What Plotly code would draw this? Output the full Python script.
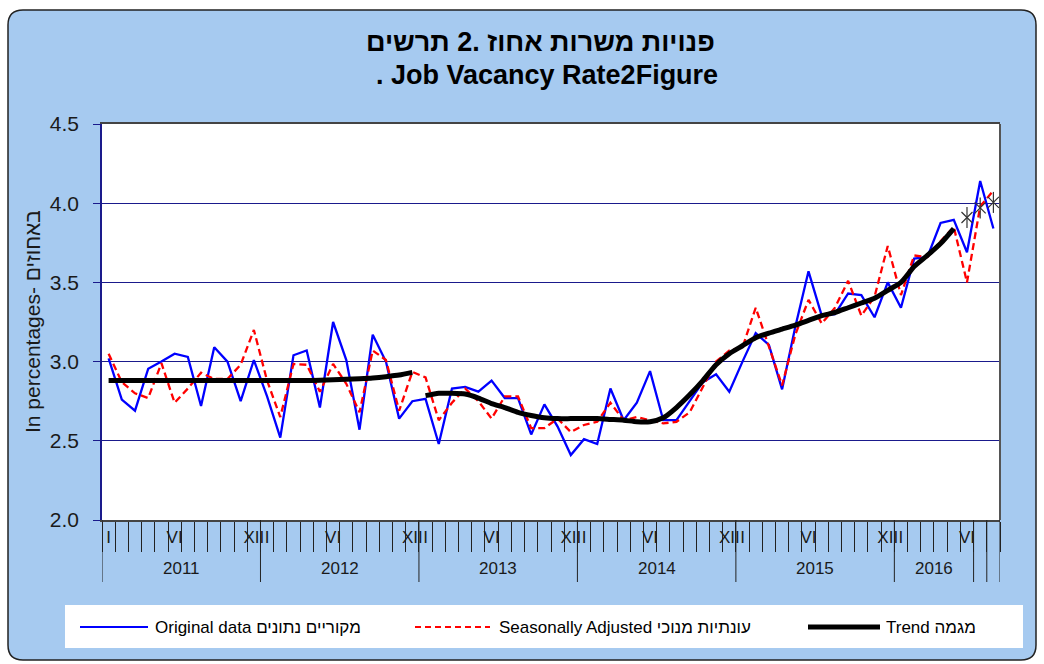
import plotly.graph_objects as go

# ---------------- data ----------------
years = ["2011", "2012", "2013", "2014", "2015", "2016"]
year_group_start = [0, 12, 24, 36, 48, 60]
year_group_end = [12, 24, 36, 48, 60, 66]
month_marks = {0: "I", 5: "VI", 11: "XII"}

original = [3.02, 2.76, 2.69, 2.955, 3.00, 3.05, 3.03, 2.72, 3.09, 3.00, 2.75, 3.01,
            2.78, 2.52, 3.04, 3.07, 2.71, 3.25, 3.01, 2.57, 3.17, 3.00, 2.64, 2.75,
            2.765, 2.48, 2.83, 2.84, 2.81, 2.88, 2.77, 2.77, 2.54, 2.73, 2.59, 2.41,
            2.51, 2.48, 2.83, 2.63, 2.74, 2.94, 2.63, 2.63, 2.75, 2.87, 2.92, 2.81,
            3.00, 3.18, 3.105, 2.825, 3.22, 3.57, 3.29, 3.30, 3.43, 3.42, 3.28, 3.50,
            3.34, 3.65, 3.66, 3.875, 3.895, 3.69, 4.14, 3.84]

seasonal = [3.05, 2.87, 2.80, 2.77, 2.99, 2.74, 2.83, 2.93, 2.89, 2.89, 2.98, 3.20,
            2.88, 2.65, 2.985, 2.98, 2.81, 2.985, 2.86, 2.68, 3.07, 3.01, 2.69, 2.935,
            2.90, 2.63, 2.74, 2.83, 2.75, 2.64, 2.78, 2.78, 2.58, 2.58, 2.64, 2.555,
            2.60, 2.62, 2.74, 2.63, 2.65, 2.63, 2.61, 2.62, 2.68, 2.84, 3.00, 3.07,
            3.09, 3.34, 3.09, 2.85, 3.17, 3.39, 3.24, 3.34, 3.51, 3.29, 3.41, 3.73,
            3.42, 3.67, 3.66, 3.76, 3.85, 3.50, 3.98, 4.08]

trend_a = [2.88, 2.88, 2.88, 2.88, 2.88, 2.88, 2.88, 2.88, 2.88, 2.88, 2.88, 2.88,
           2.88, 2.88, 2.88, 2.88, 2.882, 2.885, 2.888, 2.892, 2.897, 2.905, 2.915, 2.932]
trend_a_start = 0

trend_b = [2.785, 2.80, 2.80, 2.795, 2.77, 2.735, 2.71, 2.68, 2.66, 2.645, 2.64, 2.64,
           2.64, 2.64, 2.635, 2.63, 2.62, 2.62, 2.645, 2.71, 2.79, 2.88, 2.98, 3.05,
           3.10, 3.15, 3.18, 3.205, 3.23, 3.26, 3.29, 3.31, 3.34, 3.37, 3.40, 3.45,
           3.50, 3.60, 3.67, 3.745, 3.84]
trend_b_start = 24

trend_forecast = [3.91, 3.97, 4.005]
trend_forecast_start = 65

y_ticks = [2.0, 2.5, 3.0, 3.5, 4.0, 4.5]

# Hebrew written so that the rendered (visual) word order matches the reference
title_he = "פנויות משרות אחוז .2 תרשים"
title_en = ". Job Vacancy Rate2Figure"
y_title = "In percentages- באחוזים"
legend_labels = ["Original data מקוריים נתונים",
                 "Seasonally Adjusted עונתיות מנוכי",
                 "Trend מגמה"]

# ---------------- layout helpers ----------------
W, H = 1044, 664
PL, PR, PT, PB = 102, 1000, 124, 520


def px(xp):
    return (xp - PL) / (PR - PL)


def py(yp):
    return (PB - yp) / (PB - PT)


n = len(original)
xs = [i + 0.5 for i in range(n)]

BLUE = "#0000FF"
RED = "#FF0000"
BG = "#A6CAF0"
NAVY = "#1A1A8C"
TXT = "#1a1a1a"
FONT = "Liberation Sans, Arial, sans-serif"
NARROW = "Liberation Sans Narrow, Arial Narrow, Liberation Sans, sans-serif"

fig = go.Figure()
fig.add_trace(go.Scatter(x=xs, y=original, mode="lines",
                         line=dict(color=BLUE, width=2.3), name=legend_labels[0]))
fig.add_trace(go.Scatter(x=xs, y=seasonal, mode="lines",
                         line=dict(color=RED, width=2.3, dash="7px,4px"), name=legend_labels[1]))
fig.add_trace(go.Scatter(x=[trend_a_start + i + 0.5 for i in range(len(trend_a))], y=trend_a,
                         mode="lines", line=dict(color="black", width=5, shape="spline", smoothing=0.6),
                         name=legend_labels[2]))
fig.add_trace(go.Scatter(x=[trend_b_start + i + 0.5 for i in range(len(trend_b))], y=trend_b,
                         mode="lines", line=dict(color="black", width=5, shape="spline", smoothing=0.6),
                         showlegend=False))
fx = [trend_forecast_start + i + 0.5 for i in range(len(trend_forecast))]
fig.add_trace(go.Scatter(x=fx, y=trend_forecast, mode="markers",
                         marker=dict(symbol="x-thin-open", size=11, color="#333",
                                     line=dict(color="#333", width=1.2)), showlegend=False))
fig.add_trace(go.Scatter(x=fx, y=trend_forecast, mode="markers",
                         marker=dict(symbol="line-ns-open", size=15, color="#333",
                                     line=dict(color="#333", width=1.2)), showlegend=False))

# month labels
tickvals, ticktext = [], []
for yi in range(len(years)):
    for m, lab in month_marks.items():
        idx = yi * 12 + m
        if idx < n:
            tickvals.append(idx + 0.5)
            ticktext.append(lab)

shapes = []
# rounded background panel
x0, x1 = px(8), px(1036)
y0, y1 = py(660), py(10)
rx, ry = 15 / (PR - PL), 15 / (PB - PT)
path = (f"M {x0+rx},{y1} L {x1-rx},{y1} Q {x1},{y1} {x1},{y1-ry} L {x1},{y0+ry} "
        f"Q {x1},{y0} {x1-rx},{y0} L {x0+rx},{y0} Q {x0},{y0} {x0},{y0+ry} "
        f"L {x0},{y1-ry} Q {x0},{y1} {x0+rx},{y1} Z")
shapes.append(dict(type="path", path=path, xref="paper", yref="paper", layer="below",
                   fillcolor=BG, line=dict(color="#222", width=1.5)))
# plot area
shapes.append(dict(type="rect", xref="paper", yref="paper", x0=0, x1=1, y0=0, y1=1,
                   layer="below", fillcolor="white", line=dict(width=0)))
# legend box
shapes.append(dict(type="rect", xref="paper", yref="paper", x0=px(65), x1=px(1023),
                   y0=py(648), y1=py(605), layer="below", fillcolor="white",
                   line=dict(width=0)))
# right border
shapes.append(dict(type="line", xref="paper", yref="paper", x0=1, x1=1, y0=0, y1=1,
                   line=dict(color="#555", width=2)))
# year separators & end ticks
for b in year_group_start + [66, 67, 68]:
    shapes.append(dict(type="line", xref="x", yref="paper", x0=b, x1=b, y0=0, y1=py(582),
                       line=dict(color="#222", width=1)))

# legend lines
ly = py(627)
shapes.append(dict(type="line", xref="paper", yref="paper", x0=px(80), x1=px(148), y0=ly, y1=ly,
                   line=dict(color=BLUE, width=2)))
shapes.append(dict(type="line", xref="paper", yref="paper", x0=px(415), x1=px(490), y0=ly, y1=ly,
                   line=dict(color=RED, width=2, dash="6px,4px")))
shapes.append(dict(type="line", xref="paper", yref="paper", x0=px(808), x1=px(880), y0=ly, y1=ly,
                   line=dict(color="black", width=5)))

annotations = []
annotations.append(dict(text=title_he, xref="paper", yref="paper", x=px(540), y=py(42),
                        yanchor="middle", showarrow=False,
                        font=dict(family=FONT, size=27, color="black", weight="bold")))
annotations.append(dict(text=title_en, xref="paper", yref="paper", x=px(547), y=py(75),
                        yanchor="middle", showarrow=False,
                        font=dict(family=FONT, size=27, color="black", weight="bold")))
annotations.append(dict(text=y_title, xref="paper", yref="paper", x=px(32), y=py(322),
                        textangle=-90, xanchor="center", yanchor="middle",
                        showarrow=False, font=dict(family=FONT, size=21, color=TXT)))
for yr, s, e in zip(years, year_group_start, year_group_end):
    annotations.append(dict(text=yr, xref="x", yref="paper", x=(s + e) / 2, y=py(568),
                            yanchor="middle", showarrow=False,
                            font=dict(family=FONT, size=17, color=TXT)))
for lab, xl in zip(legend_labels, [153, 497, 884]):
    annotations.append(dict(text=lab, xref="paper", yref="paper", x=px(xl), y=ly,
                            xanchor="left", yanchor="middle",
                            showarrow=False, font=dict(family=NARROW, size=17, color="black")))

fig.update_layout(
    width=W, height=H, autosize=False,
    margin=dict(l=PL, r=W - PR, t=PT, b=H - PB, pad=0),
    paper_bgcolor="white", plot_bgcolor="rgba(0,0,0,0)",
    showlegend=False,
    shapes=shapes, annotations=annotations,
    xaxis=dict(range=[0, n], tickvals=tickvals, ticktext=ticktext, ticks="outside", ticklen=0,
               tickangle=0,
               showgrid=False, zeroline=False, showline=True, linecolor="#444", linewidth=1.5,
               mirror=True, ticklabelstandoff=1,
               tickfont=dict(family=FONT, size=17, color=TXT),
               minor=dict(ticks="outside", ticklen=30, tickcolor="#222", tickwidth=1,
                          dtick=1, tick0=0, showgrid=False)),
    yaxis=dict(range=[2.0, 4.5], tickvals=y_ticks, tickformat=".1f", ticks="outside", ticklen=7,
               tickcolor=NAVY, showgrid=True, gridcolor=NAVY, gridwidth=1, zeroline=False,
               showline=True, linecolor=NAVY, linewidth=1.5, ticklabelstandoff=10,
               tickfont=dict(family=FONT, size=21, color=TXT)),
)

fig.write_html("out.html", config={"displayModeBar": False},
               post_script="document.body.style.margin='0';document.body.style.overflow='hidden';")
